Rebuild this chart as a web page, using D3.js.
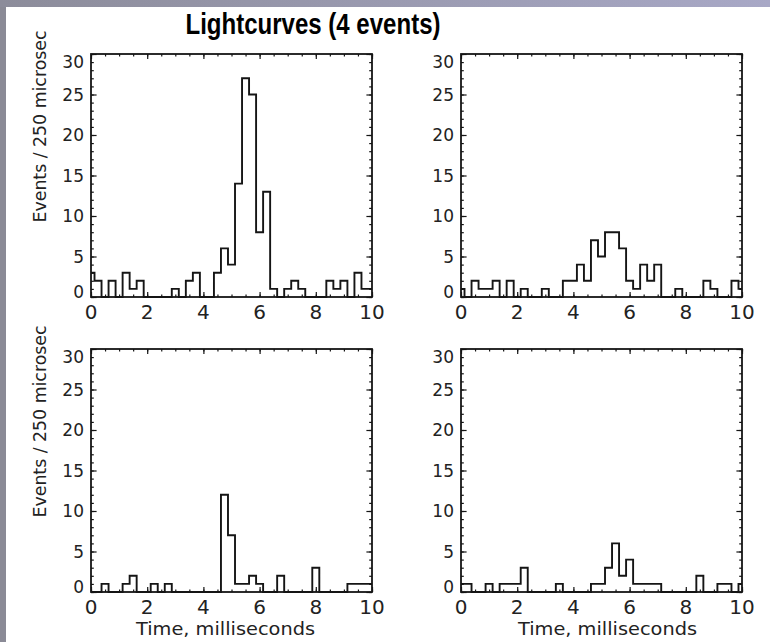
<!DOCTYPE html>
<meta charset="utf-8">
<style>
  body { margin: 0; background: #fff; }
  svg { display: block; font-family: "DejaVu Sans", sans-serif; }
</style>
<svg id="chart" width="770" height="642"></svg>
<script src="https://d3js.org/d3.v7.min.js"></script>
<script>

// ---------------------------------------------------------------------------
//                               DATA
// ---------------------------------------------------------------------------
// Counts per 250 microsec bin, one value per bin centre 0, 0.25, ... 10 ms
var binWidth = 0.25;
var event1 = [3,2,0,2,0,3,1,2,0,0,0,0,1,0,2,3,0,0,3,6,4,14,27,25,8,13,1,0,1,2,1,0,0,0,2,1,2,0,3,1,1];
var event2 = [1,0,2,1,1,2,0,2,0,1,0,0,1,0,0,2,2,4,2,7,5,8,8,6,2,1,4,2,4,0,0,1,0,0,0,2,1,0,0,2,1];
var event3 = [0,0,1,0,0,1,2,0,0,1,0,1,0,0,0,0,0,0,0,12,7,1,1,2,1,0,0,2,0,0,0,0,3,0,0,0,0,1,1,1,1];
var event4 = [1,1,0,0,1,0,1,1,1,3,0,0,0,0,1,0,0,0,0,1,1,3,6,2,4,1,1,1,1,0,0,0,0,0,2,0,0,1,1,0,1];
var events = [event1, event2, event3, event4];

var xTickLabels = [0, 2, 4, 6, 8, 10];
var yTickLabels = [0, 5, 10, 15, 20, 25, 30];
var xMinorStep = 0.5;
var yMinorStep = 1;

var title = "Lightcurves (4 events)";
var xTitle = "Time, milliseconds";
var yTitle = "Events / 250 microsec";

// ---------------------------------------------------------------------------
//                               LAYOUT
// ---------------------------------------------------------------------------
var svg = d3.select("#chart");
var pw = 281, ph = 243;            // plot box size
var lefts = [91, 461], tops = [54, 349];
var xTitleShift = [-6, 6];
var ink = "#151515";

// window frame (grey border at left and top)
var grad = svg.append("defs").append("linearGradient").attr("id", "topbar");
grad.append("stop").attr("offset", "0%").attr("stop-color", "#8c8c9a");
grad.append("stop").attr("offset", "100%").attr("stop-color", "#a8a8c6");
svg.append("rect").attr("width", 770).attr("height", 642).attr("fill", "#8a8a96");
svg.append("rect").attr("width", 770).attr("height", 7).attr("fill", "url(#topbar)");
svg.append("rect").attr("x", 6).attr("y", 7).attr("width", 764).attr("height", 635).attr("fill", "#fff");

// main title
svg.append("text")
    .attr("x", 313).attr("y", 34)
    .attr("text-anchor", "middle")
    .attr("font-family", "'Liberation Sans', Arial, sans-serif")
    .attr("font-weight", "bold")
    .attr("font-size", 29)
    .attr("textLength", 255)
    .attr("lengthAdjust", "spacingAndGlyphs")
    .attr("fill", "#000")
    .text(title);

// scales
var x = d3.scaleLinear().domain([0, 10]).range([0, pw]);
var y = d3.scaleLinear().domain([0, 30]).range([ph, 0]);

var xMinor = d3.range(0, 10 + 1e-9, xMinorStep);
var yMinor = d3.range(0, 30 + 1e-9, yMinorStep);

// histogram steps centred on each bin (like psym=10)
var line = d3.line()
    .x(function(d, i) { return x(i * binWidth); })
    .y(function(d) { return y(d); })
    .curve(d3.curveStep);

function tickAxis(g, axis, values, size) {
  g.call(axis.tickValues(values).tickSize(-size).tickFormat(""));
  g.select(".domain").remove();
  g.selectAll("line").attr("stroke", ink).attr("stroke-width", 1.2);
}

// ---------------------------------------------------------------------------
//                               PANELS
// ---------------------------------------------------------------------------
events.forEach(function(counts, i) {
  var col = i % 2, row = Math.floor(i / 2);
  var g = svg.append("g")
      .attr("transform", "translate(" + lefts[col] + "," + tops[row] + ")");

  // ticks on all four sides, pointing inward
  tickAxis(g.append("g").attr("transform", "translate(0," + ph + ")"), d3.axisBottom(x), xMinor, 2.5);
  tickAxis(g.append("g").attr("transform", "translate(0," + ph + ")"), d3.axisBottom(x), xTickLabels, 5);
  tickAxis(g.append("g"), d3.axisTop(x), xMinor, 2.5);
  tickAxis(g.append("g"), d3.axisTop(x), xTickLabels, 5);
  tickAxis(g.append("g"), d3.axisLeft(y), yMinor, 2.8);
  tickAxis(g.append("g"), d3.axisLeft(y), yTickLabels, 5.6);
  tickAxis(g.append("g").attr("transform", "translate(" + pw + ",0)"), d3.axisRight(y), yMinor, 2.8);
  tickAxis(g.append("g").attr("transform", "translate(" + pw + ",0)"), d3.axisRight(y), yTickLabels, 5.6);

  // histogram
  g.append("path")
      .datum(counts)
      .attr("d", line)
      .attr("fill", "none")
      .attr("stroke", ink)
      .attr("stroke-width", 1.9);

  // plot box
  g.append("rect")
      .attr("width", pw).attr("height", ph)
      .attr("fill", "none")
      .attr("stroke", ink)
      .attr("stroke-width", 1.8);

  // y tick labels (end labels kept inside the box height)
  g.selectAll(".ylab")
      .data(yTickLabels)
      .enter().append("text")
      .attr("x", -7)
      .attr("y", function(d) {
        var p = y(d);
        if (d === 30) p += 7.5;
        if (d === 0) p -= 5.5;
        return p;
      })
      .attr("dy", "0.36em")
      .attr("text-anchor", "end")
      .attr("font-size", 17)
      .attr("fill", "#222")
      .text(function(d) { return d; });

  // x tick labels
  g.selectAll(".xlab")
      .data(xTickLabels)
      .enter().append("text")
      .attr("x", function(d) { return x(d); })
      .attr("y", ph + 22)
      .attr("text-anchor", "middle")
      .attr("font-size", 20)
      .attr("fill", "#222")
      .text(function(d) { return d; });

  // x title on the bottom row
  if (row === 1) {
    g.append("text")
        .attr("x", pw / 2 + xTitleShift[col]).attr("y", ph + 43)
        .attr("text-anchor", "middle")
        .attr("font-size", 17)
        .attr("textLength", 179)
        .attr("lengthAdjust", "spacingAndGlyphs")
        .attr("fill", "#222")
        .text(xTitle);
  }

  // y title on the left column
  if (col === 0) {
    g.append("text")
        .attr("transform", "translate(" + (46 - lefts[0]) + "," + (ph / 2 - 49) + ") rotate(-90)")
        .attr("text-anchor", "middle")
        .attr("font-size", 17)
        .attr("textLength", 192)
        .attr("lengthAdjust", "spacingAndGlyphs")
        .attr("fill", "#222")
        .text(yTitle);
  }
});

</script>
